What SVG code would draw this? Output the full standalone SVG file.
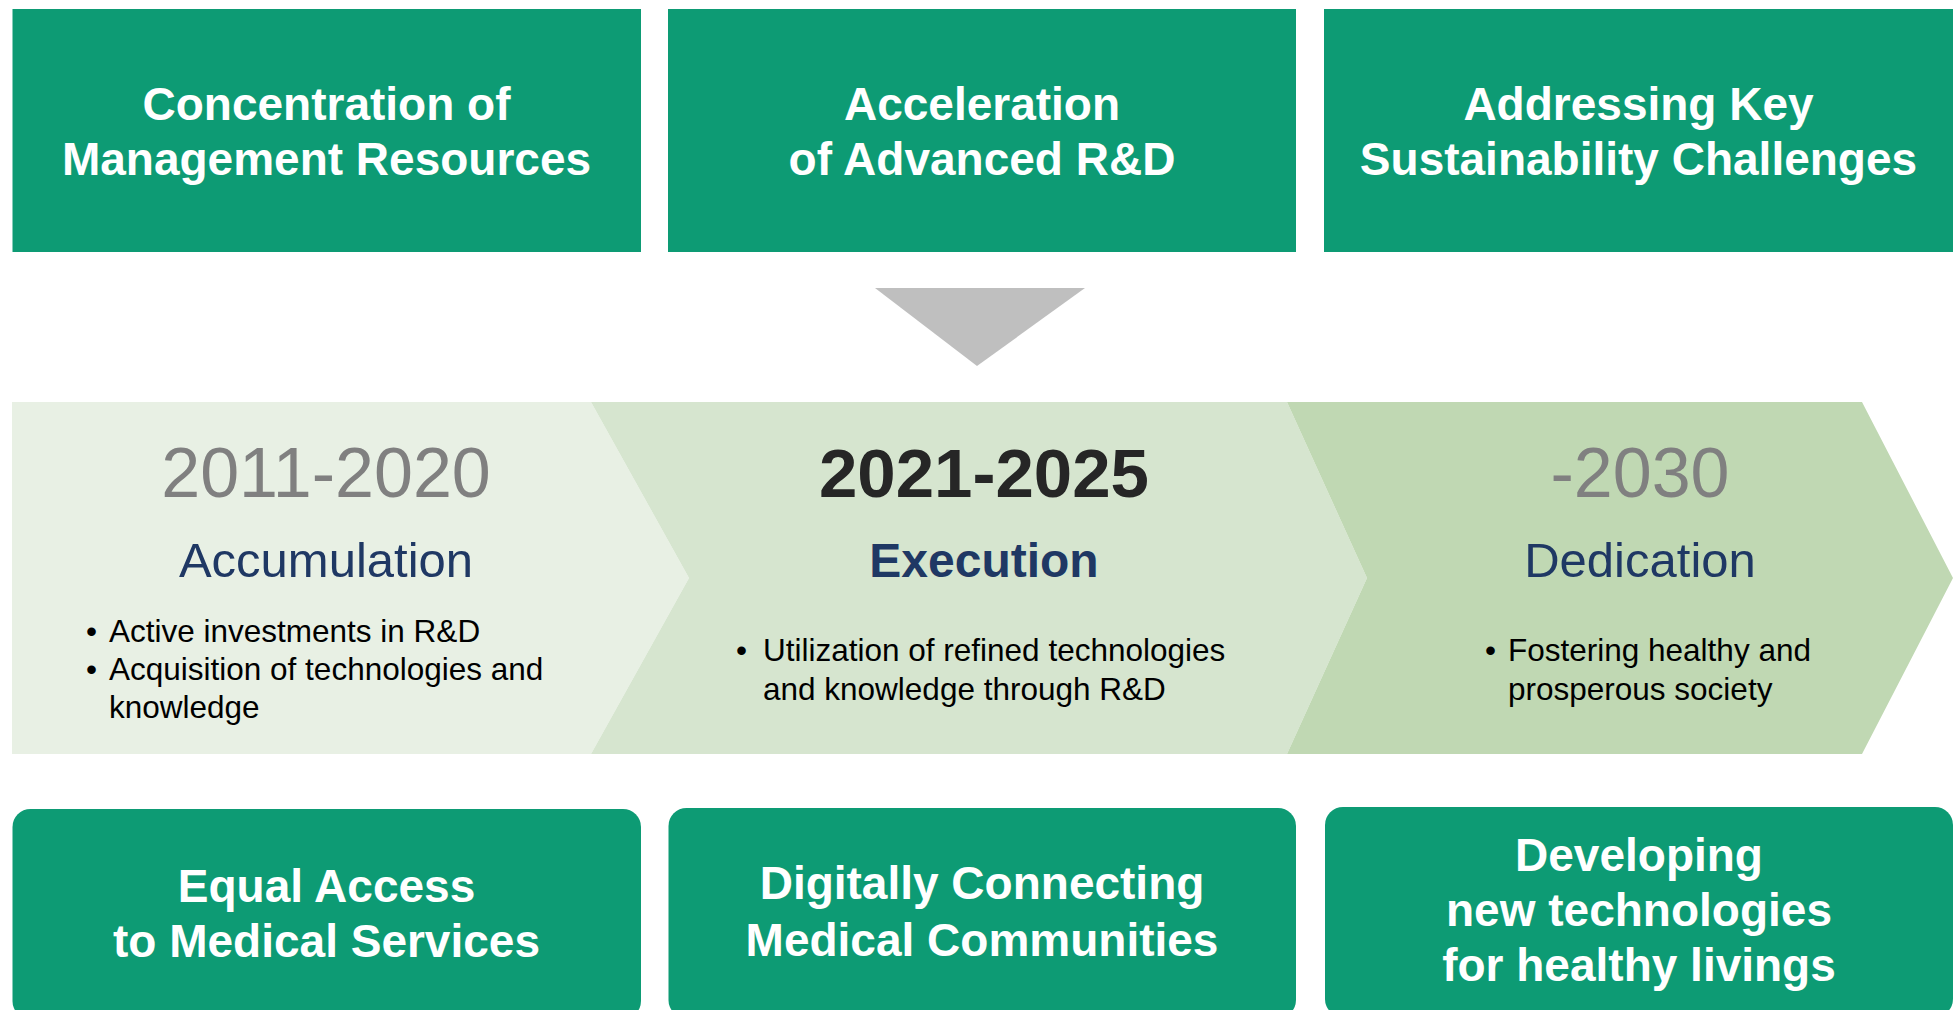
<svg xmlns="http://www.w3.org/2000/svg" width="1959" height="1010" viewBox="0 0 1959 1010">
<style>
.box{fill:#0D9B74}
.bt{font-family:"Liberation Sans",Arial,sans-serif;font-weight:bold;font-size:46px;fill:#FFFFFF;text-anchor:middle}
.yr{font-family:"Liberation Sans",Arial,sans-serif;font-size:70px;fill:#808080;text-anchor:middle}
.yrb{font-weight:bold;font-size:69px;fill:#262626}
.st{font-family:"Liberation Sans",Arial,sans-serif;font-size:49px;fill:#1F3864;text-anchor:middle}
.stb{font-weight:bold;font-size:48px}
.bl{font-family:"Liberation Sans",Arial,sans-serif;font-size:31.5px;fill:#000000}
</style>
<rect width="1959" height="1010" fill="#FFFFFF"/>
<g id="top1"><rect class="box" x="12.5" y="9" width="628.5" height="243"/>
<text class="bt" x="326.5" y="120">Concentration of</text>
<text class="bt" x="326.5" y="175">Management Resources</text></g>
<g id="top2"><rect class="box" x="668" y="9" width="628" height="243"/>
<text class="bt" x="982" y="120">Acceleration</text>
<text class="bt" x="982" y="175">of Advanced R&amp;D</text></g>
<g id="top3"><rect class="box" x="1324" y="9" width="629" height="243"/>
<text class="bt" x="1638.5" y="120">Addressing Key</text>
<text class="bt" x="1638.5" y="175">Sustainability Challenges</text></g>
<g id="connectors"><polygon points="875,288 1085,288 977,366" fill="#BFBFBF"/></g>
<g id="phase1"><path d="M12,402 L591,402 L689,578 L591,754 L12,754 Z" fill="#E8F0E4"/>
<text class="yr" x="326" y="497">2011-2020</text>
<text class="st" x="326" y="577">Accumulation</text>
<text class="bl" x="86" y="642">•</text><text class="bl" x="109" y="642">Active investments in R&amp;D</text>
<text class="bl" x="86" y="680">•</text><text class="bl" x="109" y="680">Acquisition of technologies and</text>
<text class="bl" x="109" y="718">knowledge</text></g>
<g id="phase2"><path d="M591,402 L1287,402 L1367,578 L1287,754 L591,754 L689,578 Z" fill="#D6E5CF"/>
<text class="yr yrb" x="984" y="497">2021-2025</text>
<text class="st stb" x="984" y="577">Execution</text>
<text class="bl" x="736" y="661">•</text><text class="bl" x="763" y="661">Utilization of refined technologies</text>
<text class="bl" x="763" y="700">and knowledge through R&amp;D</text></g>
<g id="phase3"><path d="M1287,402 L1862,402 L1953,578 L1862,754 L1287,754 L1367,578 Z" fill="#C0D8B3"/>
<text class="yr" x="1640" y="497">-2030</text>
<text class="st" x="1640" y="577">Dedication</text>
<text class="bl" x="1485" y="661">•</text><text class="bl" x="1508" y="661">Fostering healthy and</text>
<text class="bl" x="1508" y="700">prosperous society</text></g>
<g id="bottom1"><rect class="box" x="12.5" y="809" width="628.5" height="210" rx="18"/>
<text class="bt" x="326.5" y="902">Equal Access</text>
<text class="bt" x="326.5" y="957">to Medical Services</text></g>
<g id="bottom2"><rect class="box" x="668.5" y="808" width="627.5" height="210" rx="18"/>
<text class="bt" x="982" y="899">Digitally Connecting</text>
<text class="bt" x="982" y="956">Medical Communities</text></g>
<g id="bottom3"><rect class="box" x="1325" y="807" width="628" height="210" rx="18"/>
<text class="bt" x="1639" y="871">Developing</text>
<text class="bt" x="1639" y="926">new technologies</text>
<text class="bt" x="1639" y="981">for healthy livings</text></g>
</svg>
